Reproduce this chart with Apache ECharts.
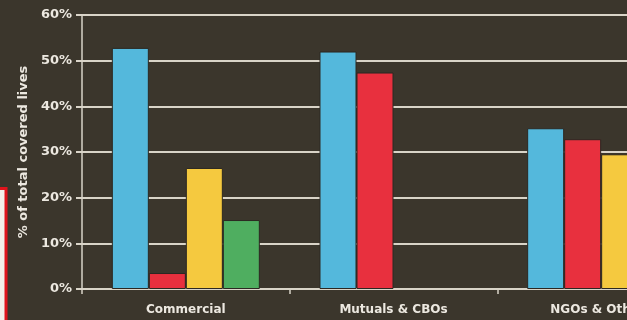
<!DOCTYPE html>
<html>
<head>
<meta charset="utf-8">
<script src="https://cdn.jsdelivr.net/npm/echarts@6/dist/echarts.min.js"></script>
<style>
html,body{margin:0;padding:0;background:#3b362c;overflow:hidden;}
#wrap{width:627px;height:320px;overflow:hidden;position:relative;}
#chart{width:705px;height:320px;position:absolute;left:0;top:0;}
</style>
</head>
<body>
<div id="wrap"><div id="chart"></div></div>
<script>
var categories = ['Commercial', 'Mutuals & CBOs', 'NGOs & Others'];
var seriesNames = ['Series 1', 'Series 2', 'Series 3', 'Series 4'];
var blueValues = [52.8, 52.0, 35.2];
var redValues = [3.5, 47.4, 32.8];
var yellowValues = [26.5, null, 29.5];
var greenValues = [15.1, null, null];
var yTicks = [0, 10, 20, 30, 40, 50, 60];

var colors = ['#54b8dc', '#e8303e', '#f5c93f', '#4fae60'];
var valueSets = [blueValues, redValues, yellowValues, greenValues];
var lineColor = '#d9d4c8';
var textColor = '#ece8e0';
var font = 'DejaVu Sans';

var chart = echarts.init(document.getElementById('chart'), null, {renderer: 'canvas'});
chart.setOption({
  backgroundColor: '#3b362c',
  animation: false,
  grid: {left: 82, top: 15, bottom: 31, right: 0, containLabel: false},
  xAxis: {
    type: 'category',
    data: categories,
    axisLine: {show: true, lineStyle: {color: lineColor, width: 2}},
    axisTick: {show: true, length: 5, alignWithLabel: false, lineStyle: {color: lineColor, width: 1.5}},
    axisLabel: {color: textColor, fontFamily: font, fontWeight: 'bold', fontSize: 12, margin: 15, interval: 0},
    splitLine: {show: false}
  },
  yAxis: {
    type: 'value',
    min: yTicks[0],
    max: yTicks[yTicks.length - 1],
    interval: 10,
    name: '% of total covered lives',
    nameLocation: 'middle',
    nameRotate: 90,
    nameGap: 52,
    nameTextStyle: {color: textColor, fontFamily: font, fontWeight: 'bold', fontSize: 13},
    axisLine: {show: true, lineStyle: {color: lineColor, width: 1.5}},
    axisTick: {show: true, length: 6, lineStyle: {color: lineColor, width: 2}},
    axisLabel: {color: textColor, fontFamily: font, fontWeight: 'bold', fontSize: 13, margin: 10,
      formatter: function (v) { return v + '%'; }},
    splitLine: {show: true, lineStyle: {color: lineColor, width: 2}}
  },
  series: valueSets.map(function (vals, i) {
    return {
      name: seriesNames[i],
      type: 'bar',
      data: vals,
      barWidth: 37,
      barGap: '0%',
      itemStyle: {color: colors[i], borderColor: '#2c2822', borderWidth: 1}
    };
  }),
  graphic: [{
    type: 'rect',
    shape: {x: -5, y: 188.5, width: 11, height: 140},
    style: {fill: '#f4f0ea', stroke: '#e0141c', lineWidth: 3},
    z: 100
  }]
});
</script>
</body>
</html>
